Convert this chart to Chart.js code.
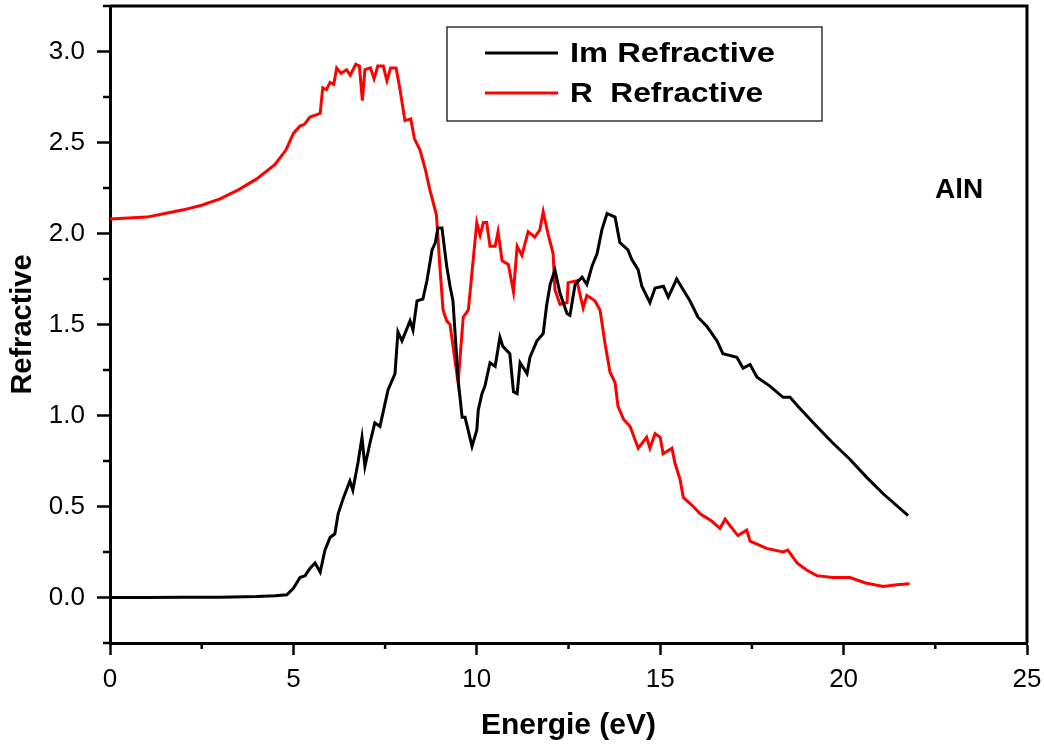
<!DOCTYPE html>
<html>
<head>
<meta charset="utf-8">
<script src="https://cdn.jsdelivr.net/npm/chart.js@4.4.1/dist/chart.umd.min.js"></script>
<style>
  html, body { margin: 0; padding: 0; background: #fff; }
  #chart { display: block; }
</style>
</head>
<body>
<canvas id="chart" width="1044" height="744"></canvas>
<script>
const FONT = '"Liberation Sans", Arial, Helvetica, sans-serif'

// Im part of the refractive index
const imEnergy = [
  0, 1, 2, 3, 4, 4.5, 4.82, 5.0, 5.18, 5.32, 5.45, 5.59, 5.73, 5.86, 6.0, 6.13,
  6.22, 6.35, 6.54, 6.62, 6.76, 6.87, 6.95, 7.1, 7.22, 7.36, 7.58, 7.77, 7.85,
  7.96, 8.18, 8.26, 8.37, 8.53, 8.64, 8.78, 8.87, 8.94, 9.05, 9.18, 9.27, 9.35,
  9.49, 9.6, 9.68, 9.87, 10.0, 10.04, 10.14, 10.22, 10.36, 10.5, 10.63, 10.71,
  10.9, 11.0, 11.1, 11.18, 11.37, 11.45, 11.64, 11.81, 11.9, 12.0, 12.13, 12.27,
  12.46, 12.54, 12.68, 12.87, 13.0, 13.14, 13.28, 13.41, 13.55, 13.77, 13.9,
  14.12, 14.22, 14.4, 14.5, 14.72, 14.86, 15.09, 15.22, 15.45, 15.63, 15.81,
  16.03, 16.27, 16.55, 16.71, 17.09, 17.26, 17.45, 17.64, 18.0, 18.35, 18.54,
  18.76, 19.27, 19.7, 20.17, 20.63, 21.08, 21.76
]
const imValues = [
  0, 0, 0.001, 0.002, 0.005, 0.009, 0.015, 0.05, 0.11, 0.12, 0.16, 0.19, 0.14, 0.26, 0.33, 0.35,
  0.46, 0.54, 0.64, 0.59, 0.74, 0.88, 0.72, 0.86, 0.96, 0.94, 1.14, 1.23, 1.46,
  1.41, 1.52, 1.47, 1.63, 1.64, 1.74, 1.91, 1.95, 2.03, 2.03, 1.82, 1.71, 1.63,
  1.20, 0.99, 0.99, 0.83, 0.92, 1.03, 1.12, 1.16, 1.29, 1.27, 1.43, 1.38,
  1.34, 1.13, 1.12, 1.29, 1.23, 1.32, 1.41, 1.45, 1.60, 1.72, 1.80, 1.67,
  1.56, 1.55, 1.72, 1.76, 1.72, 1.82, 1.89, 2.02, 2.11, 2.09, 1.95,
  1.91, 1.86, 1.80, 1.71, 1.62, 1.70, 1.71, 1.65, 1.75, 1.69, 1.63,
  1.54, 1.49, 1.41, 1.34, 1.32, 1.26, 1.28, 1.21, 1.16, 1.10, 1.10,
  1.05, 0.94, 0.85, 0.76, 0.66, 0.57, 0.45
]

// Real part of the refractive index
const reEnergy = [
  0, 0.5, 1.0, 1.5, 2.0, 2.5, 3.0, 3.5, 4.0, 4.5, 4.8, 5.0, 5.18, 5.3, 5.45, 5.6,
  5.73, 5.8, 5.9, 6.0, 6.1, 6.18, 6.3, 6.45, 6.55, 6.7, 6.8, 6.88, 6.95, 7.1,
  7.2, 7.3, 7.45, 7.55, 7.65, 7.8, 7.9, 8.04, 8.2, 8.3, 8.45, 8.6, 8.72, 8.8,
  8.9, 9.0, 9.08, 9.18, 9.27, 9.49, 9.63, 9.77, 10.0, 10.09, 10.18, 10.27,
  10.36, 10.5, 10.58, 10.69, 10.86, 11.0, 11.1, 11.23, 11.4, 11.58, 11.72,
  11.81, 11.94, 12.08, 12.13, 12.27, 12.46, 12.49, 12.73, 12.82, 12.9, 13.0,
  13.22, 13.36, 13.5, 13.63, 13.77, 13.85, 14.0, 14.18, 14.4, 14.63, 14.72,
  14.86, 15.0, 15.08, 15.32, 15.4, 15.54, 15.63, 15.9, 16.09, 16.4, 16.63,
  16.77, 17.0, 17.12, 17.36, 17.45, 17.9, 18.35, 18.48, 18.73, 19.0, 19.27,
  19.7, 20.17, 20.6, 21.08, 21.45, 21.8
]
const reValues = [
  2.08, 2.085, 2.09, 2.11, 2.13, 2.155, 2.19, 2.24, 2.30, 2.38, 2.46, 2.55, 2.59, 2.60, 2.64, 2.65,
  2.66, 2.80, 2.79, 2.83, 2.82, 2.91, 2.88, 2.90, 2.87, 2.93, 2.92, 2.73, 2.90, 2.91,
  2.85, 2.92, 2.92, 2.84, 2.91, 2.91, 2.80, 2.62, 2.63, 2.52, 2.46, 2.35, 2.24, 2.18,
  2.10, 1.80, 1.58, 1.52, 1.50, 1.18, 1.54, 1.58, 2.06, 1.99, 2.06, 2.06,
  1.93, 1.93, 2.01, 1.85, 1.83, 1.68, 1.93, 1.88, 2.01, 1.98, 2.02,
  2.12, 2.00, 1.89, 1.69, 1.61, 1.62, 1.73, 1.74, 1.66, 1.59, 1.66,
  1.63, 1.58, 1.39, 1.24, 1.18, 1.05, 0.98, 0.94, 0.82, 0.88, 0.82,
  0.90, 0.88, 0.79, 0.82, 0.74, 0.65, 0.55, 0.50, 0.46, 0.42, 0.38,
  0.43, 0.37, 0.34, 0.37, 0.31, 0.27, 0.25, 0.26, 0.19, 0.15, 0.12,
  0.11, 0.11, 0.08, 0.06, 0.07, 0.075
]

const seriesNames = ['Im Refractive', 'R  Refractive']
const seriesColors = ['#000000', '#ff0000']

const xMajorTicks = [0, 5, 10, 15, 20, 25]
const xMinorTicks = [2.5, 7.5, 12.5, 17.5, 22.5]
const yMajorTicks = [0, 0.5, 1.0, 1.5, 2.0, 2.5, 3.0]
const yMinorTicks = [-0.25, 0.25, 0.75, 1.25, 1.75, 2.25, 2.75, 3.25]

const toPoints = (xs, ys) => xs.map((x, i) => ({ x: x, y: ys[i] }))

// frame on top/right, minor ticks, boxed legend and the material label
const decorations = {
  id: 'decorations',
  afterDraw(chart) {
    const { ctx, chartArea } = chart
    const xs = chart.scales.x
    const ys = chart.scales.y
    ctx.save()
    ctx.strokeStyle = '#000'
    ctx.lineWidth = 3
    ctx.beginPath()
    ctx.moveTo(chartArea.left, chartArea.top)
    ctx.lineTo(chartArea.right, chartArea.top)
    ctx.lineTo(chartArea.right, chartArea.bottom)
    ctx.stroke()

    ctx.lineWidth = 2.5
    ctx.beginPath()
    yMinorTicks.forEach(v => {
      const py = ys.getPixelForValue(v)
      ctx.moveTo(chartArea.left - 7, py)
      ctx.lineTo(chartArea.left, py)
    })
    xMinorTicks.forEach(v => {
      const px = xs.getPixelForValue(v)
      ctx.moveTo(px, chartArea.bottom)
      ctx.lineTo(px, chartArea.bottom + 6)
    })
    ctx.stroke()

    // legend
    ctx.lineWidth = 1.5
    ctx.strokeStyle = '#333'
    ctx.strokeRect(447, 27, 375, 94)
    const rows = [53, 93]
    const widths = [205, 193]
    ctx.font = 'bold 28px ' + FONT
    ctx.textBaseline = 'middle'
    ctx.textAlign = 'left'
    seriesNames.forEach((name, i) => {
      ctx.strokeStyle = seriesColors[i]
      ctx.lineWidth = 3
      ctx.beginPath()
      ctx.moveTo(485, rows[i])
      ctx.lineTo(558, rows[i])
      ctx.stroke()
      const w = ctx.measureText(name).width
      ctx.save()
      ctx.translate(570, rows[i] + 1)
      ctx.scale(widths[i] / w, 1)
      ctx.fillStyle = '#000'
      ctx.fillText(name, 0, 0)
      ctx.restore()
    })

    ctx.fillStyle = '#000'
    ctx.font = 'bold 28px ' + FONT
    ctx.textBaseline = 'alphabetic'
    ctx.fillText('AlN', 935, 198)
    ctx.restore()
  }
}

const chart = new Chart(document.getElementById('chart'), {
  type: 'line',
  data: {
    datasets: [
      {
        label: seriesNames[0],
        data: toPoints(imEnergy, imValues),
        borderColor: seriesColors[0],
        borderWidth: 3,
        pointRadius: 0,
        tension: 0
      },
      {
        label: seriesNames[1],
        data: toPoints(reEnergy, reValues),
        borderColor: seriesColors[1],
        borderWidth: 3,
        pointRadius: 0,
        tension: 0
      }
    ]
  },
  options: {
    responsive: false,
    animation: false,
    events: [],
    layout: { padding: { top: 6, right: 17, left: 0, bottom: 0 } },
    plugins: {
      legend: { display: false },
      tooltip: { enabled: false }
    },
    scales: {
      x: {
        type: 'linear',
        min: 0,
        max: 25,
        afterBuildTicks(scale) { scale.ticks = xMajorTicks.map(v => ({ value: v })) },
        afterFit(scale) {
          scale.height = 101
          scale.paddingLeft = 0
          scale.paddingRight = 0
        },
        grid: { drawOnChartArea: false, drawTicks: true, tickLength: 12, tickWidth: 2.5, tickColor: '#000' },
        border: { display: true, color: '#000', width: 3 },
        ticks: {
          color: '#000',
          padding: 9,
          maxRotation: 0,
          font: { family: FONT, size: 26 },
          callback: v => String(v)
        },
        title: {
          display: true,
          text: 'Energie (eV)',
          color: '#000',
          font: { family: FONT, size: 30, weight: 'bold' },
          padding: { top: 0, bottom: 0 }
        }
      },
      y: {
        type: 'linear',
        min: -0.25,
        max: 3.25,
        afterBuildTicks(scale) { scale.ticks = yMajorTicks.map(v => ({ value: v })) },
        afterFit(scale) {
          scale.width = 110
          scale.paddingTop = 0
          scale.paddingBottom = 0
        },
        grid: { drawOnChartArea: false, drawTicks: true, tickLength: 13, tickWidth: 2.5, tickColor: '#000' },
        border: { display: true, color: '#000', width: 3 },
        ticks: {
          color: '#000',
          padding: 12,
          font: { family: FONT, size: 26 },
          callback: v => v.toFixed(1)
        },
        title: {
          display: true,
          text: 'Refractive',
          color: '#000',
          font: { family: FONT, size: 29, weight: 'bold' },
          padding: { top: 6, bottom: 0 }
        }
      }
    }
  },
  plugins: [decorations]
})
</script>
</body>
</html>
